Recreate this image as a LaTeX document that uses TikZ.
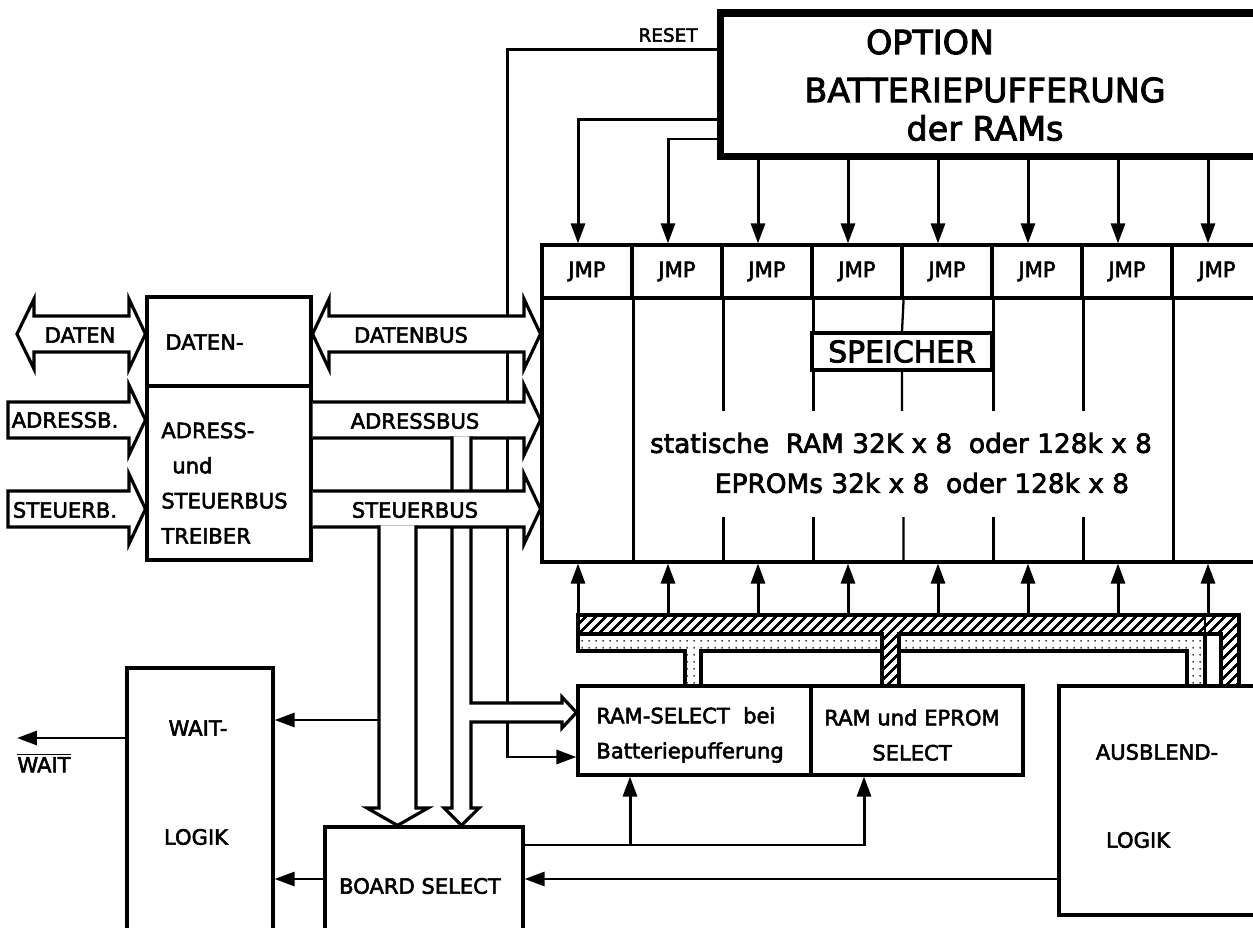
\documentclass[tikz,border=0pt]{standalone}
\usepackage{fontspec}
\setmainfont{DejaVu Sans}[FakeBold=2.6]
\usetikzlibrary{arrows.meta,calc,patterns.meta}

\newcommand\lblfont{\fontsize{12}{20}\selectfont}

\tikzset{
  blk/.style={draw, line width=1.8pt, fill=white, inner sep=0pt},
  txt/.style={font=\lblfont, inner sep=0pt},
  sig/.style={line width=1.7pt, -{Triangle[length=0.4cm,width=0.28cm]}},
  bus/.style={line width=1.8pt, line join=miter, preaction={fill=white}},
  sepline/.style={line width=1.3pt},
  hatchbar/.style={draw, line width=1.8pt, pattern={Lines[angle=45,distance=4pt,line width=1.5pt]}},
  dotbar/.style={draw, line width=1.8pt, pattern={Dots[radius=0.6pt,distance=4pt]}},
}

\begin{document}
\begin{tikzpicture}[x=0.02cm, y=-0.02cm]
  \useasboundingbox (0,0) rectangle (1253,928);
  \clip (0,0) rectangle (1253,928);
  \fill[white] (0,0) rectangle (1253,928);

  % blocks
  \node[blk, line width=4pt, minimum width=11.4cm, minimum height=2.88cm] (option) at (1005,85) {};
  \node[blk, minimum width=14.4cm, minimum height=5.28cm] (mem) at (902,430) {};
  \foreach \i in {1,...,8}
    \node[blk, txt, minimum width=1.8cm, minimum height=1.06cm] (jmp\i) at ({497+90*\i},271.5) {JMP};
  \foreach \i in {1,7}
    \draw[sepline] (jmp\i.south east) -- (jmp\i.south east |- mem.south);
  \foreach \i in {2,3,5,6}
    \draw[sepline] (jmp\i.south east) -- (jmp\i.south east |- 0,411)
      (jmp\i.south east |- 0,517) -- (jmp\i.south east |- mem.south);
  \node[blk, minimum width=3.6cm, minimum height=0.74cm,
        font=\fontsize{17}{18}\selectfont] (spe) at (902,351.5) {SPEICHER};
  \draw[sepline] (jmp4.south east) -- (spe.north) (spe.south) -- (spe.south |- 0,411)
    (jmp4.south east |- 0,517) -- (jmp4.south east |- mem.south);

  \node[blk, minimum width=4.66cm, minimum height=1.78cm] (rsel) at (694.5,730.5) {};
  \node[blk, minimum width=4.24cm, minimum height=1.78cm] (esel) at (917,730.5) {};
  \node[blk, minimum width=4.62cm, minimum height=4.58cm] (ausb) at (1174.5,800.5) {};
  \node[blk, minimum width=3.96cm, minimum height=3.26cm] (bsel) at (424,908.5) {};
  \node[blk, minimum width=2.92cm, minimum height=6.44cm] (wait) at (200,829) {};
  \node[blk, minimum width=3.28cm, minimum height=1.78cm] (dtr) at (229,341.5) {};
  \node[blk, minimum width=3.28cm, minimum height=3.48cm] (atr) at (229,473) {};

  % texts
  \node[txt, font=\fontsize{19}{20}\selectfont] (opt1) at (930,42) {OPTION};
  \node[txt, font=\fontsize{19}{20}\selectfont] (opt2) at (985,90) {BATTERIEPUFFERUNG};
  \node[txt, font=\fontsize{19}{20}\selectfont] (opt3) at (985,128) {der RAMs};
  \node[txt, font=\fontsize{10.5}{12}\selectfont] (treset) at (668,35) {RESET};
  \node[txt, font=\fontsize{15}{16}\selectfont] (ram1) at (901,443)
    {statische\ \ RAM 32K x 8\ \ oder 128k x 8};
  \node[txt, font=\fontsize{15}{16}\selectfont] (ram2) at (922,483)
    {EPROMs 32k x 8\ \ oder 128k x 8};
  \node[txt, anchor=west] (tdat) at (165,342) {DATEN-};
  \node[txt, anchor=west, align=left] (ttrb) at (161,483)
    {ADRESS-\\\hspace*{0.22cm}und\\STEUERBUS\\TREIBER};
  \node[txt, anchor=west, align=left] (trs) at (596,735) {RAM-SELECT\ \ bei\\Batteriepufferung};
  \node[txt, align=center] (tes) at (912,735) {RAM und EPROM\\SELECT};
  \node[txt] (tau1) at (1157,752) {AUSBLEND-};
  \node[txt] (tau2) at (1138,840) {LOGIK};
  \node[txt] (tbs) at (420,886) {BOARD SELECT};
  \node[txt] (twait) at (198,728) {WAIT-};
  \node[txt] (tlog) at (196,837) {LOGIK};

  % hatched and dotted lines under the memory
  \draw[hatchbar] (578,615) -- (1239,615) -- (1239,686) -- (1221,686) -- (1221,634)
    -- (899,634) -- (899,686) -- (882,686) -- (882,634) -- (578,634) -- cycle;
  \draw[dotbar] (578,634) -- (882,634) -- (882,651) -- (701,651) -- (701,686)
    -- (685,686) -- (685,651) -- (578,651) -- cycle;
  \draw[dotbar] (899,634) -- (1205,634) -- (1205,686) -- (1187,686) -- (1187,651)
    -- (899,651) -- cycle;
  \draw[sepline] (1205,615) -- (1205,634);

  % jumper lines
  \draw[sig] (option.west |- 0,120) -| ($(jmp1.north)+(-9,0)$);
  \draw[sig] (option.west |- 0,139) -| ($(jmp2.north)+(-9,0)$);
  \foreach \i in {3,...,8} {
    \coordinate (top\i) at ($(jmp\i.north)+(-9,0)$);
    \draw[sig] (option.south -| top\i) -- (top\i);
  }
  \foreach \i in {1,...,8} {
    \coordinate (bot\i) at ($(jmp\i.center |- mem.south)+(-9,0)$);
    \draw[sig] (bot\i |- 0,615) -- (bot\i);
  }

  % RESET
  \draw[sig] (option.west |- 0,50) -- (507,50) -- (507,757) -- (rsel.west |- 0,757);

  % select lines
  \coordinate (bs1) at (630,845);
  \draw[sig] (bsel.east |- bs1) -| (esel.south -| 864,0);
  \draw[sig] (bs1) -- (rsel.south -| bs1);
  \draw[sig] (ausb.west |- 0,879) -- (bsel.east |- 0,879);
  \draw[sig] (bsel.west |- 0,879) -- (wait.east |- 0,879);
  \coordinate (waitout) at (17,738);
  \draw[sig] (wait.west |- waitout) -- (waitout);
  \node[txt] (nwait) at (44,763) {$\overline{\mbox{WAIT}}$};

  % buses, left side
  \draw[bus] (17,334) -- (34,299) -- (34,316) -- (129,316) -- (129,299) -- (dtr.west |- 0,334)
    -- (129,369) -- (129,352) -- (34,352) -- (34,369) -- cycle;
  \draw[bus] (8,402) -- (129,402) -- (129,385) -- (atr.west |- 0,420) -- (129,455)
    -- (129,438) -- (8,438) -- cycle;
  \draw[bus] (8,491) -- (129,491) -- (129,474) -- (atr.west |- 0,509) -- (129,544)
    -- (129,527) -- (8,527) -- cycle;
  \node[txt] (ldaten) at (80,335) {DATEN};
  \node[txt] (ladr) at (65,420) {ADRESSB.};
  \node[txt] (lsteu) at (65,510) {STEUERB.};

  % buses, right side
  \draw[bus] (dtr.east |- 0,334) -- (329,299) -- (329,316) -- (524,316) -- (524,299)
    -- (mem.west |- 0,334) -- (524,369) -- (524,352) -- (329,352) -- (329,369) -- cycle;
  \draw[bus] (atr.east |- 0,402) -- (524,402) -- (524,385) -- (mem.west |- 0,420)
    -- (524,455) -- (524,438) -- (atr.east |- 0,438);
  \draw[bus] (452,436.4) -- (452,808) -- (444,808) -- (bsel.north -| 461.5,0) -- (479,808)
    -- (471,808) -- (471,722) -- (562,722) -- (562,728) -- (rsel.west |- 0,712.5)
    -- (562,697) -- (562,703) -- (471,703) -- (471,436.4);
  \draw[bus] (atr.east |- 0,491) -- (524,491) -- (524,474) -- (mem.west |- 0,509)
    -- (524,544) -- (524,527) -- (atr.east |- 0,527);
  \draw[bus] (379,525.4) -- (379,808) -- (367,808) -- (bsel.north -| 397.5,0) -- (428,808)
    -- (416,808) -- (416,525.4);
  \coordinate (wtap) at (379,720);
  \draw[sig] (wtap) -- (wait.east |- wtap);
  \node[txt] (ldbus) at (411,335) {DATENBUS};
  \node[txt] (labus) at (415,421) {ADRESSBUS};
  \node[txt] (lsbus) at (415,510) {STEUERBUS};
\end{tikzpicture}
\end{document}
